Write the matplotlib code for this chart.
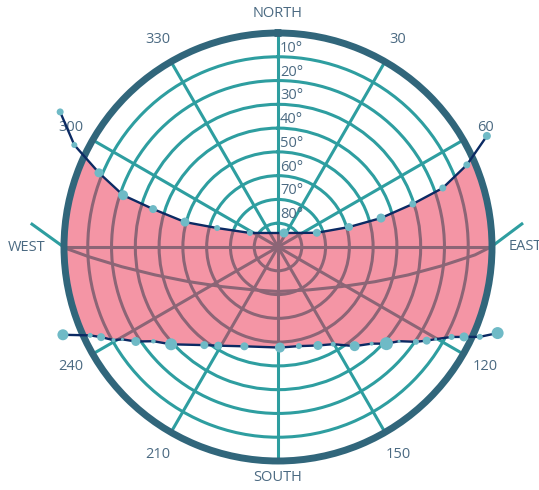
import numpy as np
import matplotlib
matplotlib.use("Agg")
import matplotlib.pyplot as plt
from matplotlib.transforms import offset_copy

# ---- data (azimuth in degrees clockwise from north, solar elevation in degrees)
june_az = [301.8, 296.6, 292.5, 288.5, 286.9, 285.0, 287.3, 296.6,
           23.2, 69.9, 74.3, 74.3, 72.3, 70.3, 66.5, 62.0]
june_elev = [-17.8, -5.8, 8.5, 21.3, 35.1, 49.5, 63.2, 76.8,
             83.6, 72.6, 59.0, 45.0, 30.5, 16.4, 3.4, -9.5]
june_weight = [7, 6, 9, 10, 8, 9, 6, 6, 9, 8, 8, 9, 7, 7, 7, 8]

dec_az = [247.8, 244.8, 243.0, 240.5, 239.3, 236.4, 232.9, 227.7, 216.9,
          211.2, 198.7, 178.9, 168.1, 157.9, 150.4, 142.3, 135.9, 131.7,
          127.9, 124.5, 122.2, 120.3, 117.4, 115.8, 114.0, 111.4]
dec_elev = [-7.7, 2.7, 6.5, 10.5, 13.9, 18.2, 24.3, 29.2, 38.4,
            41.5, 45.9, 47.7, 47.4, 45.3, 43.0, 37.3, 33.4, 28.9,
            25.5, 19.6, 16.1, 13.2, 7.8, 3.1, -2.9, -9.2]
dec_weight = [11, 5, 8, 4, 3, 9, 4.5, 12, 8, 8, 8, 10, 6, 9, 5, 10, 4, 13,
              3, 6, 8, 3, 6, 9, 6, 12]

equinox_az = [275.3, 269.7, 267.1, 262.8, 257.2, 248.9, 234.8, 208.1, 180.0,
              144.8, 121.9, 109.7, 102.1, 96.6, 92.3, 89.9, 84.6]
equinox_elev = [-13.9, 0.5, 10.2, 23.8, 37.0, 49.6, 61.1, 69.5, 71.3,
                67.9, 58.5, 46.7, 34.0, 20.8, 7.1, 0.2, -13.0]

ring_elev = [10, 20, 30, 40, 50, 60, 70, 80]
ring_labels = ["10°", "20°", "30°", "40°", "50°", "60°", "70°", "80°"]
cardinal_az = [0, 90, 180, 270]
cardinal_labels = ["NORTH", "EAST", "SOUTH", "WEST"]
minor_az = [30, 60, 120, 150, 210, 240, 300, 330]
minor_labels = ["30", "60", "120", "150", "210", "240", "300", "330"]

# ---- styles
TEAL = "#2e9ea0"
FRAME = "#31667b"
TEXT = "#4b6a82"
FILL = "#eb2d4d"
PATH = "#0b2a63"
DOT = "#6fbac6"
FS = 10.5
# label placement style for the cardinal labels: (radial position, ha, va)
CARD_STYLE = {"NORTH": (-5.0, "center", "bottom"),
              "EAST": (-6.8, "left", "center"),
              "SOUTH": (-3.8, "center", "top"),
              "WEST": (-8.0, "right", "center")}
MINOR_R = -10.8
plt.rcParams["font.family"] = ["Open Sans", "DejaVu Sans"]

fig = plt.figure(figsize=(5.39, 4.90), dpi=100)
ax = fig.add_axes([64 / 539, 29 / 490, 428 / 539, 428 / 490], projection="polar")
ax.set_theta_zero_location("N")
ax.set_theta_direction(-1)
ax.set_ylim(90, 0)
ax.set_axisbelow(True)

ax.set_yticks(ring_elev)
ax.set_yticklabels([])
ax.set_xticks(np.deg2rad(cardinal_az))
ax.set_xticklabels([""] * len(cardinal_az))
ax.set_xticks(np.deg2rad(minor_az), minor=True)
ax.set_xticklabels([""] * len(minor_az), minor=True)
ax.grid(True, which="major", color=TEAL, lw=2.2)
ax.xaxis.grid(True, which="minor", color=TEAL, lw=2.2)
ax.tick_params(axis="y", length=0)
ax.tick_params(axis="x", which="major", length=14, width=2.2, color=TEAL,
               direction="out")
ax.tick_params(axis="x", which="minor", length=8.5, width=2.2, color=TEAL,
               direction="out")
ax.spines["polar"].set_color(FRAME)
ax.spines["polar"].set_linewidth(5)
ax.spines["polar"].set_zorder(2.6)

# angular labels
for a, lab in zip(cardinal_az, cardinal_labels):
    r, ha, va = CARD_STYLE[lab]
    ax.text(np.deg2rad(a), r, lab, ha=ha, va=va, fontsize=FS, color=TEXT,
            clip_on=False)
for a, lab in zip(minor_az, minor_labels):
    ax.text(np.deg2rad(a), MINOR_R, lab, ha="center", va="center",
            fontsize=FS, color=TEXT, clip_on=False)

# radial labels
lab_tr = offset_copy(ax.transData, fig=fig, x=2, y=1, units="dots")
for e, lab in zip(ring_elev, ring_labels):
    ax.text(0, e, lab, transform=lab_tr, ha="left", va="bottom",
            fontsize=FS, color=TEXT, zorder=1.5)

june_t = np.unwrap(np.deg2rad(june_az))
dec_t = np.unwrap(np.deg2rad(dec_az))
eq_t = np.unwrap(np.deg2rad(equinox_az))

# equinox path (below the translucent band)
ax.plot(eq_t, equinox_elev, color=TEAL, lw=2.2, zorder=0.9, clip_on=False)

# band between the two solstice paths
band_t = np.unwrap(np.concatenate([june_t, dec_t[::-1]]))
band_e = np.concatenate([june_elev, dec_elev[::-1]])
ax.fill(band_t, band_e, color=FILL, alpha=0.5, lw=0, zorder=1)

for t, e, w in [(june_t, june_elev, june_weight), (dec_t, dec_elev, dec_weight)]:
    ax.plot(t, e, color=PATH, lw=1.7, zorder=3, clip_on=False)
    ax.scatter(t, e, s=(np.array(w) * 0.72) ** 2, color=DOT, lw=0,
               zorder=4, clip_on=False)

fig.savefig("out.png", dpi=100)
